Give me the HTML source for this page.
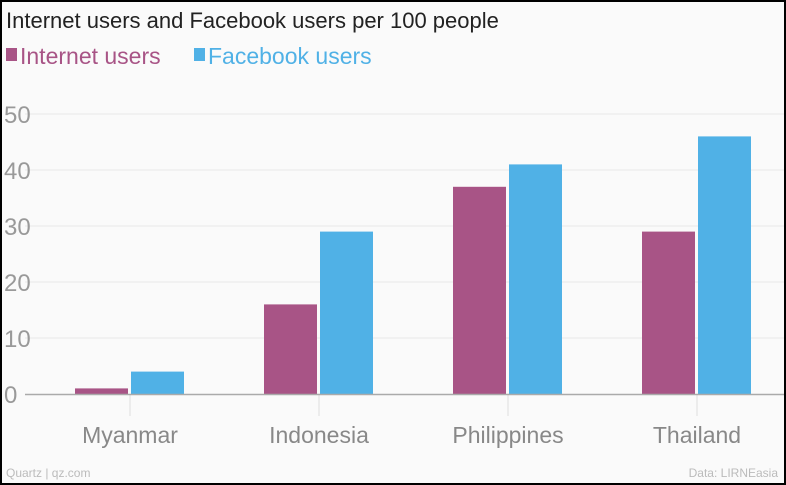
<!DOCTYPE html>
<html><head><meta charset="utf-8"><style>
body{margin:0;background:#fff}
#c{position:relative;width:786px;height:485px;box-sizing:border-box;border:2px solid #000;background:#fafafa;overflow:hidden;font-family:"Liberation Sans",sans-serif}
svg{position:absolute;left:-2px;top:-2px}
</style></head><body>
<div id="c">
<svg id="s" width="786" height="485">
<text x="6" y="28" font-size="22" fill="#222">Internet users and Facebook users per 100 people</text>
<rect x="6" y="48" width="11" height="13" fill="#a85486"/>
<text x="20" y="64" font-size="23" fill="#a85486">Internet users</text>
<rect x="194" y="48" width="11" height="13" fill="#50b1e6"/>
<text x="208" y="64" font-size="23" fill="#50b1e6">Facebook users</text>
<text x="6" y="477" font-size="12" fill="#bbb">Quartz | qz.com</text>
<text x="778" y="477" font-size="12" fill="#bbb" text-anchor="end">Data: LIRNEasia</text>
</svg>
</div>
<script>
const categories=["Myanmar","Indonesia","Philippines","Thailand"];
const internetUsers=[1,16,37,29];
const facebookUsers=[4,29,41,46];
const yTicks=[0,10,20,30,40,50];
const s=document.getElementById('s');const NS='http://www.w3.org/2000/svg';
const y=v=>394-v*5.6;
const cx=i=>130+i*189;
function mk(t,a,n){const e=document.createElementNS(NS,t);for(const k in a)e.setAttribute(k,a[k]);s.appendChild(e);return e;}
yTicks.forEach(v=>{
 if(v>0){const l=mk('line',{x1:25,x2:786,y1:y(v),y2:y(v),stroke:'#e8e8e8','stroke-width':1});
 
 }
 const t=mk('text',{x:4,y:y(v)+9,'font-size':24,fill:'#999'});t.textContent=v;
 
 
});
categories.forEach((c,i)=>{
 const tk=mk('line',{x1:cx(i),x2:cx(i),y1:394,y2:416,stroke:'#ddd'});
 
 
 const b1=mk('rect',{x:cx(i)-55,y:y(internetUsers[i]),width:53,height:394-y(internetUsers[i]),fill:'#a85486'});
 
 
 const b2=mk('rect',{x:cx(i)+1,y:y(facebookUsers[i]),width:53,height:394-y(facebookUsers[i]),fill:'#50b1e6'});
 
 
 const t=mk('text',{x:cx(i),y:443,'font-size':23,fill:'#888','text-anchor':'middle'});t.textContent=c;
 
 
});
const ax=mk('line',{x1:25,x2:786,y1:394.5,y2:394.5,stroke:'#aaa','stroke-width':1.5});


</script>
</body></html>
